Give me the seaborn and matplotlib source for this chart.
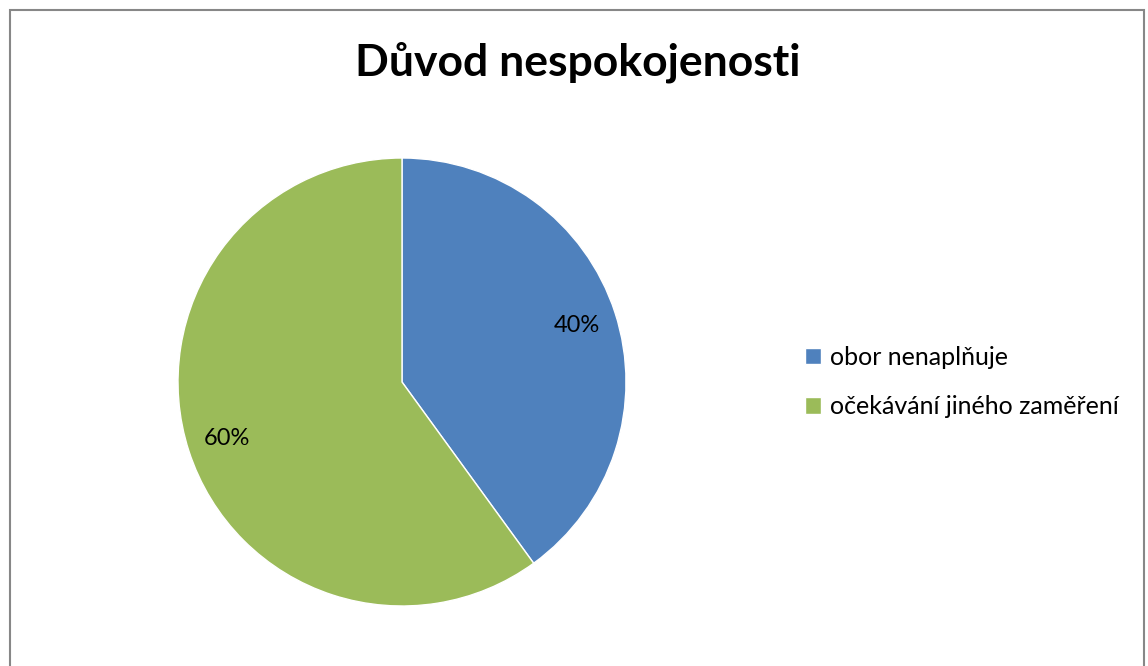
import matplotlib
matplotlib.use("Agg")
import matplotlib.pyplot as plt
import seaborn as sns
from matplotlib.patches import Rectangle

categories = ["obor nenaplňuje", "očekávání jiného zaměření"]
values = [40, 60]
colors = ["#4F81BD", "#9BBB59"]
title = "Důvod nespokojenosti"

sns.set_theme(style="white")
plt.rcParams['font.family'] = ['Lato', 'DejaVu Sans']
plt.rcParams['text.color'] = 'black'

W, H = 1148, 666
fig = plt.figure(figsize=(W/100, H/100), dpi=100)
fig.patch.set_facecolor("white")

# outer chart border
fig.add_artist(Rectangle((9.5/W, -0.05), (1144-9.5)/W, (H-10.5)/H + 0.05,
                         transform=fig.transFigure, fill=False,
                         edgecolor="#878787", linewidth=1.5))

cx, cy, r = 402, 382, 224
ax = fig.add_axes([(cx-r)/W, (H-cy-r)/H, 2*r/W, 2*r/H])
wedges, texts, autotexts = ax.pie(values, colors=colors, startangle=90, counterclock=False,
                                  autopct=lambda p: f"{p:.0f}%", pctdistance=0.82,
                                  wedgeprops=dict(linewidth=1, edgecolor="white"),
                                  textprops=dict(fontsize=17, color="black"))
ax.set_xlim(-1, 1)
ax.set_ylim(-1, 1)
ax.set_aspect("equal")

fig.text(578/W, 1-62/H, title, ha="center", va="center", fontsize=32,
         fontweight="bold", color="black")

handles = [Rectangle((0, 0), 1, 1, facecolor=c) for c in colors]
fig.legend(handles, categories, loc="center left", bbox_to_anchor=(782/W, 1-382/H),
           frameon=False, fontsize=18, handlelength=0.65, handleheight=0.65,
           handletextpad=0.35, labelspacing=1.05, labelcolor="black")

fig.savefig("out.png", dpi=100)
